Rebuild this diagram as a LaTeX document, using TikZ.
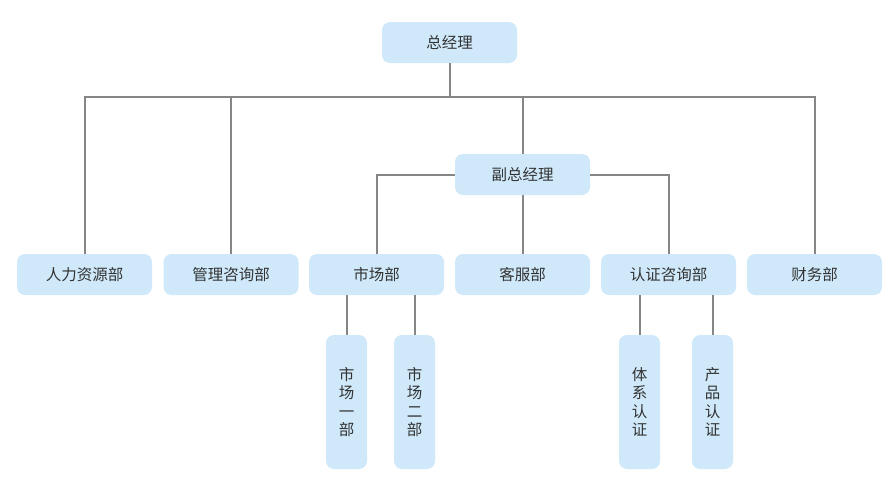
\documentclass[tikz,border=0pt]{standalone}
\usepackage{fontspec}
\usepackage{tikz}
\newfontfamily\cjk{Noto Sans CJK SC}
\definecolor{boxfill}{HTML}{CFE9FA}
\definecolor{linegray}{HTML}{868686}
\definecolor{textgray}{HTML}{333333}
\tikzset{
  box/.style={fill=boxfill,rounded corners=8pt,minimum width=135pt,minimum height=41pt,
    inner sep=0pt,text=textgray,font=\cjk\fontsize{15.5}{20}\selectfont},
  vbox/.style={box,minimum width=41pt,minimum height=134pt,align=center,
    font=\cjk\fontsize{15.5}{18.5}\selectfont},
  conn/.style={linegray,line width=2pt}
}
\begin{document}
\begin{tikzpicture}[x=1pt,y=-1pt]
\useasboundingbox (0,0) rectangle (890,488);
% top levels
\node[box] (zjl) at (449.5,42.5) {总经理};
\node[box] (fzjl) at (522.5,174.5) {副总经理};
% departments
\node[box] (rl) at (84.5,274.5) {人力资源部};
\node[box] (gl) at (231,274.5) {管理咨询部};
\node[box] (sc) at (376.5,274.5) {市场部};
\node[box] (kf) at (522.5,274.5) {客服部};
\node[box] (rz) at (668.5,274.5) {认证咨询部};
\node[box] (cw) at (814.5,274.5) {财务部};
% sub units
\node[vbox] (sc1) at (346.5,402) {市\\场\\一\\部};
\node[vbox] (sc2) at (414.5,402) {市\\场\\二\\部};
\node[vbox] (tx) at (639.5,402) {体\\系\\认\\证};
\node[vbox] (cp) at (712.5,402) {产\\品\\认\\证};
\coordinate (bus) at (0,97);
% lines
\draw[conn] (zjl.south) -- (zjl.south |- bus);
\draw[conn] (rl.north) |- (cw.north |- bus) -- (cw.north);
\draw[conn] (gl.north) -- (gl.north |- bus);
\draw[conn] (fzjl.north) -- (fzjl.north |- bus);
\draw[conn] (fzjl.west) -| (sc.north);
\draw[conn] (fzjl.east) -| (rz.north);
\draw[conn] (fzjl.south) -- (kf.north);
\draw[conn] (sc1.north) -- (sc1.north |- sc.south);
\draw[conn] (sc2.north) -- (sc2.north |- sc.south);
\draw[conn] (tx.north) -- (tx.north |- rz.south);
\draw[conn] (cp.north) -- (cp.north |- rz.south);
\end{tikzpicture}
\end{document}
